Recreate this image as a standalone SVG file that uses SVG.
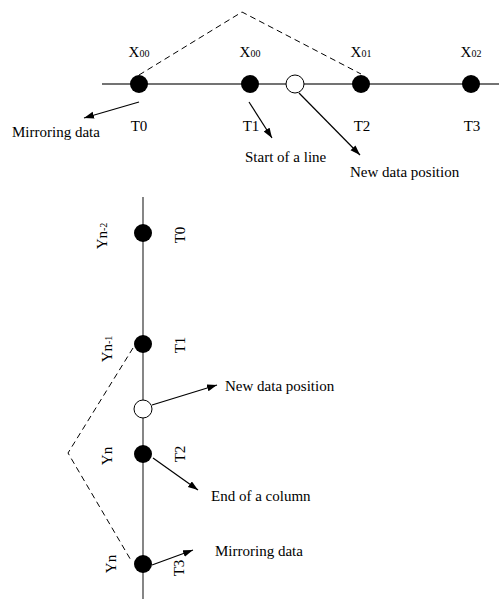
<svg xmlns="http://www.w3.org/2000/svg" width="499" height="599" viewBox="0 0 499 599">
<style>
text{font-family:"Liberation Serif","Times New Roman",serif;font-size:15px;fill:#000}
.sub{font-size:10px}
.axis{stroke:#444;stroke-width:1.3;fill:none}
.dash{stroke:#000;stroke-width:1;stroke-dasharray:6,4;fill:none}
.arr{stroke:#000;stroke-width:1.2;fill:none;marker-end:url(#ah)}
.dot{fill:#000}
.open{fill:#fff;stroke:#000;stroke-width:1}
</style>
<defs>
<marker id="ah" markerUnits="userSpaceOnUse" markerWidth="11" markerHeight="8" refX="10" refY="3.5" orient="auto">
<path d="M0,0 L10,3.5 L0,7 z" fill="#000"/>
</marker>
</defs>
<g id="axes">
<line class="axis" x1="102" y1="84" x2="499" y2="84"/>
<line class="axis" x1="143" y1="197" x2="143" y2="599"/>
</g>
<g id="connectors">
<polyline class="dash" points="139,75 242,12 361,74"/>
<polyline class="dash" points="133,348 68,453 132,562"/>
<line class="arr" x1="139" y1="102" x2="84" y2="118"/>
<line class="arr" x1="249" y1="102" x2="272" y2="138"/>
<line class="arr" x1="299" y1="93" x2="360" y2="155"/>
<line class="arr" x1="152" y1="405" x2="217" y2="385"/>
<line class="arr" x1="153" y1="458" x2="198" y2="490"/>
<line class="arr" x1="152" y1="565" x2="193" y2="550"/>
</g>
<g id="h-t0"><circle class="dot" cx="139" cy="84" r="9"/><text x="139" y="57" text-anchor="middle">X<tspan class="sub">00</tspan></text><text x="139" y="131" text-anchor="middle">T0</text></g>
<g id="h-t1"><circle class="dot" cx="250" cy="84" r="9"/><text x="250" y="57" text-anchor="middle">X<tspan class="sub">00</tspan></text><text x="251" y="131" text-anchor="middle">T1</text></g>
<g id="h-new"><circle class="open" cx="295" cy="84" r="9"/></g>
<g id="h-t2"><circle class="dot" cx="361" cy="84" r="9"/><text x="361" y="57" text-anchor="middle">X<tspan class="sub">01</tspan></text><text x="362" y="131" text-anchor="middle">T2</text></g>
<g id="h-t3"><circle class="dot" cx="471" cy="84" r="9"/><text x="471" y="57" text-anchor="middle">X<tspan class="sub">02</tspan></text><text x="472" y="131" text-anchor="middle">T3</text></g>
<g id="h-labels">
<text x="12" y="137">Mirroring data</text>
<text x="245" y="162">Start of a line</text>
<text x="350" y="177">New data position</text>
</g>
<g id="v-t0"><circle class="dot" cx="143" cy="233" r="9"/><text transform="translate(107,236) rotate(-90)" text-anchor="middle">Yn<tspan class="sub">-2</tspan></text><text transform="translate(185,235) rotate(-90)" text-anchor="middle">T0</text></g>
<g id="v-t1"><circle class="dot" cx="143" cy="344" r="9"/><text transform="translate(112,349) rotate(-90)" text-anchor="middle">Yn<tspan class="sub">-1</tspan></text><text transform="translate(185,345) rotate(-90)" text-anchor="middle">T1</text></g>
<g id="v-new"><circle class="open" cx="143" cy="409" r="9"/></g>
<g id="v-t2"><circle class="dot" cx="143" cy="454" r="9"/><text transform="translate(112,456) rotate(-90)" text-anchor="middle">Yn</text><text transform="translate(185,454) rotate(-90)" text-anchor="middle">T2</text></g>
<g id="v-t3"><circle class="dot" cx="143" cy="564" r="9"/><text transform="translate(116,564) rotate(-90)" text-anchor="middle">Yn</text><text transform="translate(184,568) rotate(-90)" text-anchor="middle">T3</text></g>
<g id="v-labels">
<text x="225" y="391">New data position</text>
<text x="211" y="501">End of a column</text>
<text x="215" y="556">Mirroring data</text>
</g>
</svg>
